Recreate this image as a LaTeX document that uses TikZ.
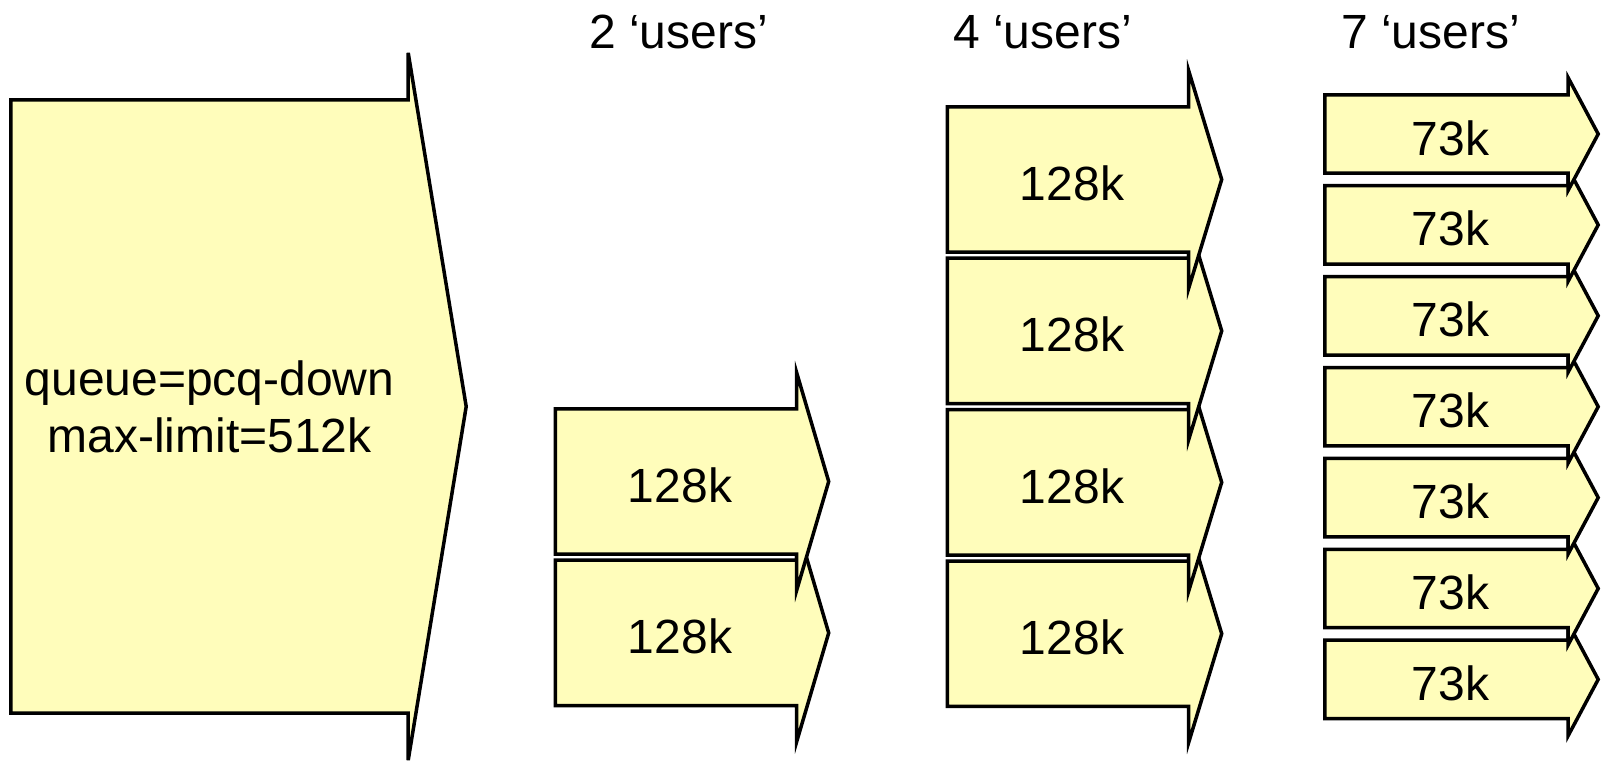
\documentclass[tikz,border=0pt]{standalone}
\usepackage{fontspec}
\setmainfont{Liberation Sans}
\usepackage{xcolor}
\definecolor{QueueYellow}{RGB}{255,253,187}
\definecolor{QueueBlack}{RGB}{0,0,0}
\usepackage{tikz}
\usetikzlibrary{
    positioning,
    calc,
    backgrounds
}

\begin{document}
\begin{tikzpicture}[
    x=1pt,
    y=-1pt,
    node distance=6pt,
%
    shaft/.style={
        rectangle,
        inner sep=0pt,
        minimum width=241pt,
        minimum height=145pt,
        align=center,
        font=\fontsize{48}{57}\selectfont
    },
%
    rate/.style={
        shaft,
        text height=42pt,
        text depth=0pt,
        execute at begin node=\hspace*{8pt}
    },
%
    narrowrate/.style={
        rate,
        minimum width=243pt,
        minimum height=78pt
    },
%
    heading/.style={
        anchor=base,
        inner sep=0pt,
        font=\fontsize{48}{57}\selectfont
    },
%
    flowline/.style={
        draw=QueueBlack,
        fill=QueueYellow,
        line width=3.5pt,
        line join=miter
    }
]
\useasboundingbox (0,0) rectangle (1601,761);
%
% Whole queue
%
\node[
    shaft,
    minimum width=397pt,
    minimum height=613pt
] (queue) at (209.5,406.5) {
    queue=pcq-down\\
    max-limit=512k
};
%
% Two users
%
\node[heading] (ttwo) at (678.5,48) {2 ‘users’};
%
\node[rate] (two1) at (676,481.5) {128k};
\node[rate, below=of two1] (two2) {128k};
%
% Four users
%
\node[heading] (tfour) at (1042.5,48) {4 ‘users’};
%
\node[rate] (four1) at (1068,179.5) {128k};
\node[rate, below=of four1] (four2) {128k};
\node[rate, below=of four2] (four3) {128k};
\node[rate, below=of four3] (four4) {128k};
%
% Seven users
%
\node[heading] (tseven) at (1430.5,48) {7 ‘users’};
%
\node[narrowrate] (seven1) at (1446.5,134) {73k};
\node[narrowrate, below=12.5pt of seven1] (seven2) {73k};
\node[narrowrate, below=12.5pt of seven2] (seven3) {73k};
\node[narrowrate, below=12.5pt of seven3] (seven4) {73k};
\node[narrowrate, below=12.5pt of seven4] (seven5) {73k};
\node[narrowrate, below=12.5pt of seven5] (seven6) {73k};
\node[narrowrate, below=12.5pt of seven6] (seven7) {73k};
%
% Arrow outlines, lowest first so upper heads lie on top
%
\begin{scope}[on background layer]
\foreach \n/\e/\t in {
    queue/47/58,
    two2/36/32, two1/36/32,
    four4/36/33, four3/36/33, four2/36/33, four1/36/33,
    seven7/17/30, seven6/17/30, seven5/17/30, seven4/17/30,
    seven3/17/30, seven2/17/30, seven1/17/30%
} {
    \draw[flowline]
        (\n.north west)
        --
        (\n.north east)
        --
        ++(0,-\e)
        --
        ($(\n.east)+(\t,0)$)
        --
        ($(\n.south east)+(0,\e)$)
        --
        (\n.south east)
        --
        (\n.south west)
        --
        cycle;
}
\end{scope}
%
\end{tikzpicture}
\end{document}
